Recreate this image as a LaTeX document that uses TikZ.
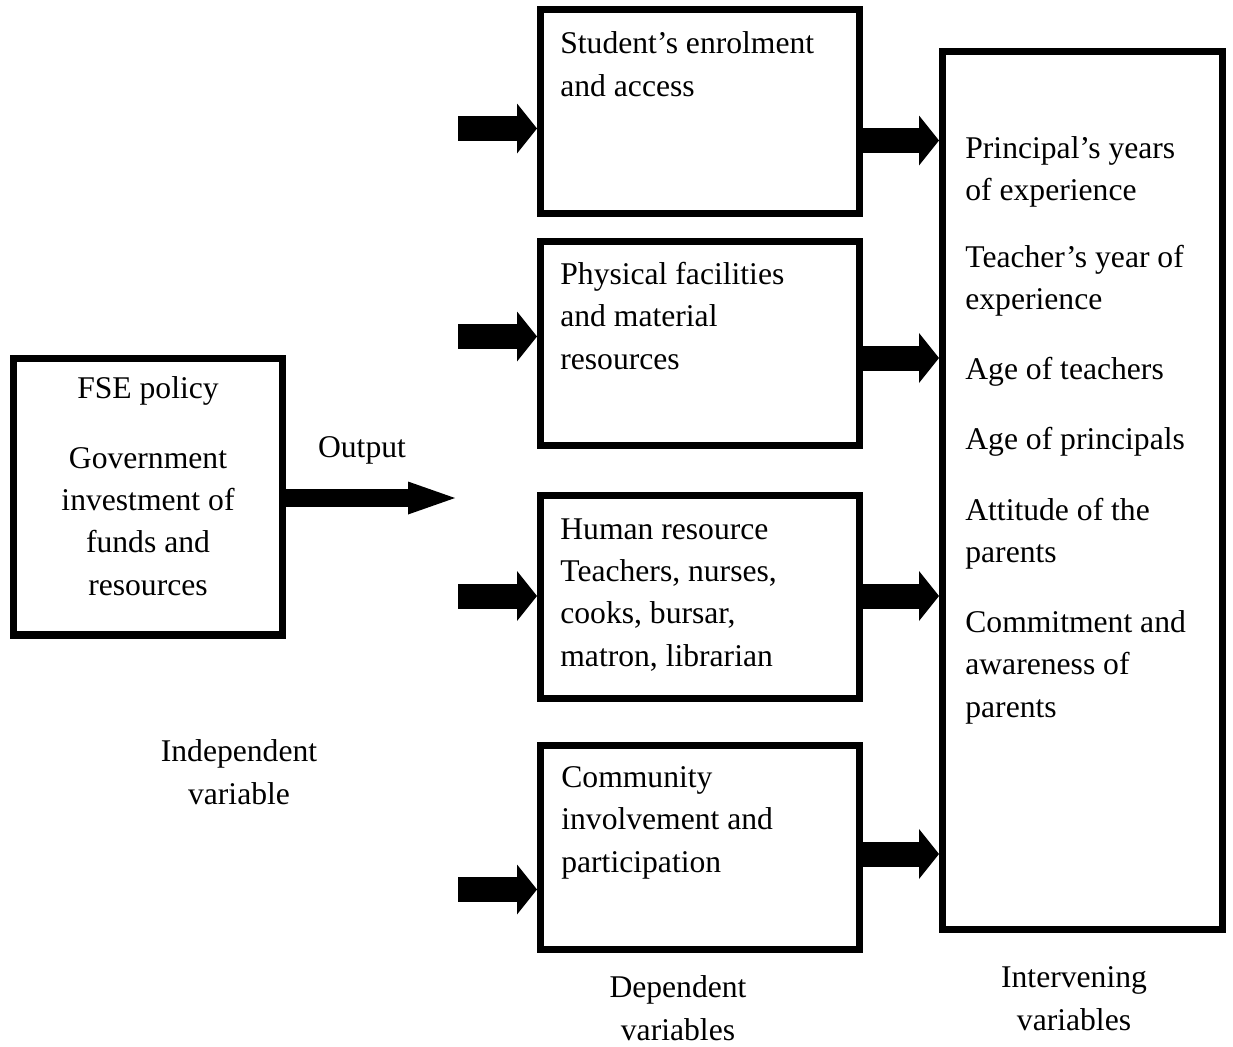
\documentclass[tikz,border=0pt]{standalone}
\usepackage{fontspec}
\setmainfont{Liberation Serif}
\usetikzlibrary{arrows.meta,positioning}
\tikzset{
  varbox/.style={
    rectangle, draw, line width=4pt,
    inner sep=0pt, outer sep=0pt
  },
  depbox/.style={
    varbox, minimum width=6.38cm, minimum height=4.07cm
  },
  vartext/.style={
    inner sep=0pt, align=left, anchor=base west,
    font=\fontsize{18}{24}\selectfont
  },
  ctrtext/.style={
    inner sep=0pt, align=center, anchor=base,
    font=\fontsize{18}{24}\selectfont
  },
  fatarrow/.style={
    line width=0.5cm, shorten >=2pt,
    -{Triangle[length=0.4cm, width=1cm, line width=0pt]}
  },
  outarrow/.style={
    line width=0.36cm,
    -{Triangle[length=0.94cm, width=0.66cm, line width=0pt]}
  }
}

\begin{document}
\begin{tikzpicture}[x=0.02cm, y=-0.02cm]
\useasboundingbox (0,0) rectangle (1233,1046);

% (text nodes are placed by the baseline of their last line)

% ── Independent variable ────────────────────────────────────────────────────
\node[varbox, minimum width=5.4cm, minimum height=5.53cm] (fse) at (148,496.75) {};
\node[ctrtext] (fsetext) at (148,595)
  {FSE policy\\[16pt]Government\\investment of\\funds and\\resources};
\node[ctrtext] (indep) at (239,804) {Independent\\variable};

% Output arrow
\coordinate (outE) at (455,498);
\draw[outarrow] (outE -| fse.east) -- (outE);
\node[ctrtext] (outlbl) at (362,457) {Output};

% ── Dependent variables ─────────────────────────────────────────────────────
\node[depbox] (student) at (700,111.5) {};
\node[depbox, below=0.57cm of student] (physical) {};
\node[depbox, below=1.0cm of physical] (human) {};
\node[depbox, below=0.94cm of human] (community) {};

\node[vartext] at (560,96) {Student’s enrolment\\and access};
\node[vartext] at (560,369) {Physical facilities\\and material\\resources};
\node[vartext] at (560,666) {Human resource\\Teachers, nurses,\\cooks, bursar,\\matron, librarian};
\node[vartext] at (561,872) {Community\\involvement and\\participation};

\node[ctrtext] (dep) at (678,1040) {Dependent\\variables};

% inputs from the left
\coordinate (inA) at (458,128.5);
\coordinate (inB) at (458,336.5);
\coordinate (inC) at (458,596);
\coordinate (inD) at (458,889.5);
\draw[fatarrow] (inA) -- (inA -| student.west);
\draw[fatarrow] (inB) -- (inB -| physical.west);
\draw[fatarrow] (inC) -- (inC -| human.west);
\draw[fatarrow] (inD) -- (inD -| community.west);

% ── Intervening variables ───────────────────────────────────────────────────
\node[varbox, minimum width=5.6cm, minimum height=17.57cm] (inter) at (1082.5,490.75) {};
\node[vartext] at (965,717)
  {Principal’s years\\of experience\\[14pt]Teacher’s year of\\experience\\[16pt]%
   Age of teachers\\[16pt]Age of principals\\[16pt]Attitude of the\\parents\\[16pt]%
   Commitment and\\awareness of\\parents};
\node[ctrtext] (intlbl) at (1074,1030) {Intervening\\variables};

% arrows into the intervening box
\coordinate (rA) at (900,140.5);
\coordinate (rB) at (900,358);
\coordinate (rC) at (900,596);
\coordinate (rD) at (900,854);
\draw[fatarrow] (rA -| student.east) -- (rA -| inter.west);
\draw[fatarrow] (rB -| physical.east) -- (rB -| inter.west);
\draw[fatarrow] (rC -| human.east) -- (rC -| inter.west);
\draw[fatarrow] (rD -| community.east) -- (rD -| inter.west);

\end{tikzpicture}
\end{document}
